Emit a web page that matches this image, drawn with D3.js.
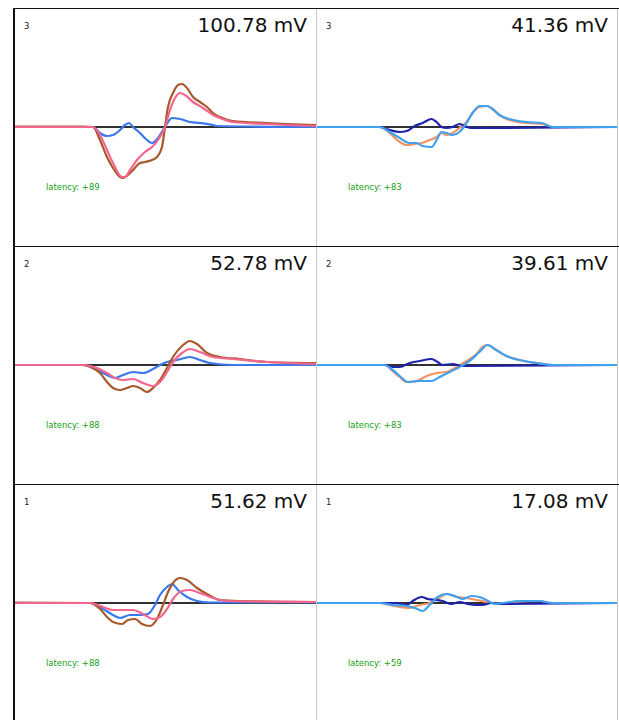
<!DOCTYPE html>
<html>
<head>
<meta charset="utf-8">
<script src="https://cdn.jsdelivr.net/npm/d3@7"></script>
<style>
    body { margin: 0; background: #fff; }
    svg { display: block; }
</style>
</head>
<body>
<svg id="chart" width="619" height="720"></svg>
<script>
// traces as [sample, amplitude] pairs
var r3_left_blue = [[0,0],[79,0],[86,-6],[93,-9],[99,-8],[106,-3],[111,2],[115,4],[119,0],[126,-6],[133,-13],[138,-16],[144,-11],[149,-3],[154,5],[158,9],[166,8],[176,5],[186,4],[199,2],[203,1],[302,0]];
var r3_left_brown = [[0,0.5],[70,0.5],[79,0],[86,-13],[93,-30],[99,-41],[106,-50],[109,-51],[114,-48],[119,-43],[126,-36],[131,-35],[138,-33],[143,-30],[148,-20],[151,0],[154,20],[159,34],[164,42],[168,43],[173,39],[179,30],[186,25],[193,20],[199,14],[206,10],[219,6],[253,4],[302,2]];
var r3_left_pink = [[0,0],[79,0],[86,-8],[93,-23],[99,-36],[108,-50],[111,-50],[116,-43],[123,-33],[131,-25],[138,-20],[144,-13],[151,0],[156,17],[161,29],[166,34],[171,32],[179,25],[189,19],[199,12],[206,9],[219,5],[253,3],[302,1]];

var r2_left_blue = [[0,0],[69,0],[83,-5],[93,-10],[101,-13],[109,-10],[119,-7],[129,-8],[139,-4],[146,0],[153,3],[163,5],[176,8],[186,5],[196,2],[219,0],[302,0]];
var r2_left_brown = [[0,0],[69,0],[79,-3],[86,-8],[93,-17],[99,-23],[106,-25],[113,-23],[119,-21],[126,-23],[133,-27],[139,-23],[146,-15],[153,-3],[159,8],[168,19],[176,24],[183,21],[193,12],[206,8],[226,6],[253,3],[302,2]];
var r2_left_pink = [[0,0],[69,0],[83,-3],[93,-8],[101,-13],[109,-15],[119,-14],[129,-18],[139,-21],[146,-17],[153,-7],[159,3],[168,12],[176,16],[186,13],[199,8],[219,6],[253,3],[302,1]];

var r1_left_blue = [[0,0],[76,0],[89,-6],[99,-12],[106,-15],[116,-12],[126,-12],[134,-11],[141,-2],[146,8],[153,16],[158,19],[164,13],[173,6],[183,2],[196,0.5],[302,0.5]];
var r1_left_brown = [[0,0.5],[76,0],[86,-6],[93,-14],[99,-19],[108,-21],[114,-17],[121,-16],[128,-21],[136,-23],[143,-16],[149,-2],[154,11],[159,20],[166,25],[173,23],[183,15],[193,9],[206,3],[226,2],[302,1]];
var r1_left_pink = [[0,0],[76,0],[89,-4],[99,-7],[109,-7],[119,-7],[129,-11],[139,-16],[146,-14],[153,-6],[159,4],[168,12],[176,13],[186,10],[199,5],[213,2],[302,1]];

var r3_right_navy = [[0,0],[64,0],[74,-3],[84,-5],[91,-4],[99,1],[107,4],[116,8],[121,5],[126,0],[131,-1],[137,0],[144,3],[149,1],[156,-1],[171,-1],[302,0]];
var r3_right_orange = [[0,0],[64,0],[74,-6],[84,-15],[91,-18],[99,-17],[106,-16],[114,-13],[121,-10],[126,-6],[131,-8],[137,-6],[144,-1],[151,5],[157,14],[164,20],[171,21],[176,19],[184,12],[194,7],[211,4],[227,3],[237,0],[302,0]];
var r3_right_lightblue = [[0,0],[64,0],[74,-5],[84,-11],[94,-16],[101,-16],[107,-19],[116,-20],[121,-13],[126,-5],[131,-6],[137,-8],[144,-5],[151,4],[157,14],[164,21],[172,21],[177,18],[184,12],[194,8],[211,5],[227,4],[237,0],[302,0]];

var r2_right_navy = [[0,0],[69,0],[77,-2],[84,-2],[94,2],[104,4],[116,6],[122,3],[127,0],[137,1],[147,-1],[154,-1],[302,0]];
var r2_right_orange = [[0,0],[69,0],[77,-6],[84,-12],[91,-17],[101,-16],[111,-11],[121,-8],[131,-7],[141,-2],[151,4],[161,11],[167,18],[172,20],[179,16],[191,9],[204,5],[221,2],[237,0],[302,0]];
var r2_right_lightblue = [[0,0],[69,0],[77,-5],[84,-11],[92,-17],[104,-16],[116,-16],[124,-12],[134,-7],[144,-2],[154,4],[164,13],[172,20],[181,15],[191,9],[204,5],[221,2],[237,0],[302,0]];

var r1_right_navy = [[0,0],[80,0],[91,-2],[97,2],[106,6],[112,4],[121,3],[127,2],[136,-1],[144,1],[152,-1],[161,-2],[167,-2],[176,0],[184,-1],[302,0]];
var r1_right_orange = [[0,0],[64,0],[74,-2],[84,-4],[94,-5],[104,-2],[114,0],[122,4],[131,9],[141,6],[151,5],[161,3],[171,1],[184,-1],[201,1],[224,2],[237,0],[302,0]];
var r1_right_lightblue = [[0,0],[64,0],[77,-2],[91,-3],[99,-5],[107,-8],[114,-2],[122,6],[131,9],[139,7],[147,4],[156,7],[164,6],[171,3],[179,-1],[187,0],[204,2],[224,2],[237,0],[302,0]];

var row_labels = ["3", "2", "1"];
var left_amplitudes = ["100.78 mV", "52.78 mV", "51.62 mV"];
var right_amplitudes = ["41.36 mV", "39.61 mV", "17.08 mV"];
var left_latency = ["latency: +89", "latency: +88", "latency: +88"];
var right_latency = ["latency: +83", "latency: +83", "latency: +59"];

var left_colors = ["#3a78ee", "#a9582c", "#f2668e"];
var right_colors = ["#f59362", "#1f22ad", "#3fa2f0"];

var left_traces = [
    [r3_left_blue, r3_left_brown, r3_left_pink],
    [r2_left_blue, r2_left_brown, r2_left_pink],
    [r1_left_blue, r1_left_brown, r1_left_pink]
];
var right_traces = [
    [r3_right_orange, r3_right_navy, r3_right_lightblue],
    [r2_right_orange, r2_right_navy, r2_right_lightblue],
    [r1_right_orange, r1_right_navy, r1_right_lightblue]
];

var svg = d3.select("#chart");

var grid_left = 14, grid_mid = 316, grid_right = 617, grid_top = 8, row_h = 238;

function render_panel(x0, x1, top, traces, colors, label, amp, lat) {
    var x = d3.scaleLinear().domain([0, 302]).range([x0, x1]);
    var y = d3.scaleLinear().domain([-119, 119]).range([top + row_h, top]);
    var g = svg.append("g");

    // zero line
    g.append("line")
        .attr("x1", x(0)).attr("x2", x(302))
        .attr("y1", y(0)).attr("y2", y(0))
        .style("stroke", "#303030")
        .style("stroke-width", 2);

    var line = d3.line()
        .x(function (d) { return x(d[0]); })
        .y(function (d) { return y(d[1]); })
        .curve(d3.curveMonotoneX);

    g.selectAll("path.trace")
        .data(traces)
        .enter().append("path")
        .attr("class", "trace")
        .attr("d", line)
        .style("fill", "none")
        .style("stroke", function (d, i) { return colors[i]; })
        .style("stroke-width", 2.2)
        .style("stroke-linejoin", "round");

    g.append("text")
        .attr("x", x0 + 10).attr("y", top + 21)
        .style("font-family", "DejaVu Sans, sans-serif")
        .style("font-size", "8.5px")
        .style("fill", "#222")
        .text(label);

    g.append("text")
        .attr("x", x1 - 9).attr("y", top + 24)
        .attr("text-anchor", "end")
        .style("font-family", "DejaVu Sans, sans-serif")
        .style("font-size", "20px")
        .style("fill", "#111")
        .text(amp);

    g.append("text")
        .attr("x", x0 + 32).attr("y", top + 182)
        .style("font-family", "DejaVu Sans Condensed, DejaVu Sans, sans-serif")
        .style("font-size", "9.4px")
        .style("fill", "#14a014")
        .text(lat);
}

for (var i = 0; i < 3; i++) {
    var row_top = grid_top + i * row_h;
    render_panel(grid_left, grid_mid, row_top, left_traces[i], left_colors, row_labels[i], left_amplitudes[i], left_latency[i]);
    render_panel(grid_mid, grid_right, row_top, right_traces[i], right_colors, row_labels[i], right_amplitudes[i], right_latency[i]);
}

/* frame */
svg.append("line")
    .attr("x1", grid_mid + 0.5).attr("x2", grid_mid + 0.5)
    .attr("y1", grid_top).attr("y2", 720)
    .style("stroke", "#c8c8c8");
svg.append("line")
    .attr("x1", grid_right + 0.5).attr("x2", grid_right + 0.5)
    .attr("y1", grid_top).attr("y2", 720)
    .style("stroke", "#c8c8c8");
for (var k = 0; k < 3; k++) {
    svg.append("line")
        .attr("x1", grid_left).attr("x2", grid_right + 3)
        .attr("y1", grid_top + k * row_h + 0.5).attr("y2", grid_top + k * row_h + 0.5)
        .style("stroke", "#111");
}
svg.append("line")
    .attr("x1", grid_left).attr("x2", grid_left)
    .attr("y1", grid_top).attr("y2", 720)
    .style("stroke", "#111")
    .style("stroke-width", 2);
</script>
</body>
</html>
